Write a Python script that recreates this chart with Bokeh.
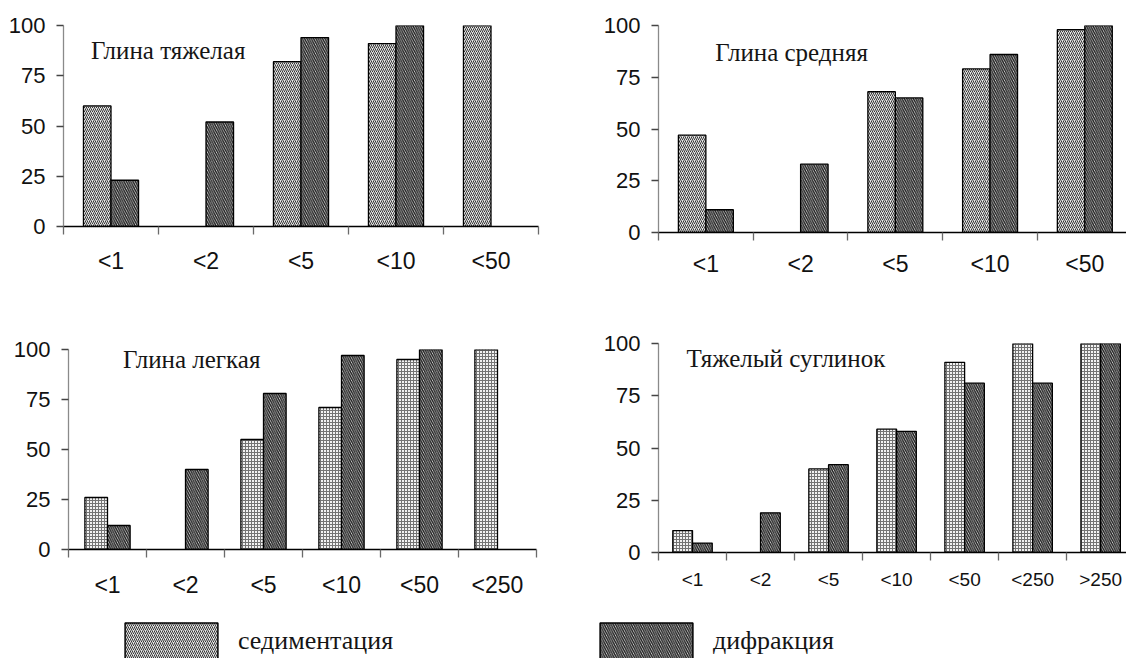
from bokeh.plotting import figure
from bokeh.layouts import column, row
from bokeh.models import Range1d, FixedTicker, Label, Legend, LegendItem, ColumnDataSource
from bokeh.embed import file_html
from bokeh.resources import INLINE

# ---------------- data ----------------
cats_heavy = ["<1", "<2", "<5", "<10", "<50"]
cats_medium = ["<1", "<2", "<5", "<10", "<50"]
cats_light = ["<1", "<2", "<5", "<10", "<50", "<250"]
cats_loam = ["<1", "<2", "<5", "<10", "<50", "<250", ">250"]

heavy_sed = [60, None, 82, 91, 100]
heavy_dif = [23, 52, 94, 100, None]
medium_sed = [47, None, 68, 79, 98]
medium_dif = [11, 33, 65, 86, 100]
light_sed = [26, None, 55, 71, 95, 100]
light_dif = [12, 40, 78, 97, 100, None]
loam_sed = [10.5, None, 40, 59, 91, 100, 100]
loam_dif = [4.5, 19, 42, 58, 81, 81, 100]

titles = ["Глина тяжелая", "Глина средняя", "Глина легкая", "Тяжелый суглинок"]
legend_labels = ["седиментация", "дифракция"]
y_ticks = [0, 25, 50, 75, 100]

# ---------------- styles ----------------
BAR_W = 0.29
SED_TOP = dict(fill_color="#e4e4e4", hatch_pattern="/", hatch_color="#363636",
               hatch_scale=4, hatch_weight=1)
SED_BOT = dict(fill_color="#f2f2f2", hatch_pattern="+", hatch_color="#747474",
               hatch_scale=3, hatch_weight=1)
DIF = dict(fill_color="#dcdcdc", hatch_pattern="\\", hatch_color="#1e1e1e",
           hatch_scale=4.5, hatch_weight=1.4)
SANS = "Liberation Sans"
SERIF = "Liberation Serif"


def panel(cats, sed, dif, title, tpos, sed_style, w, h, bl, br, bt, bb, xspan,
          xfont="23px", xstandoff=13):
    n = len(cats)
    p = figure(width=w, height=h, output_backend="svg", toolbar_location=None,
               x_range=Range1d(0.5, 0.5 + xspan), y_range=Range1d(0, 100),
               min_border_left=bl, min_border_right=br, min_border_top=bt,
               min_border_bottom=bb)
    p.frame_align = False
    p.outline_line_color = None
    p.grid.visible = False
    p.background_fill_color = "white"
    p.border_fill_color = "white"

    sx = [i + 1 - BAR_W / 2 for i, v in enumerate(sed) if v is not None]
    sv = [v for v in sed if v is not None]
    dx = [i + 1 + BAR_W / 2 for i, v in enumerate(dif) if v is not None]
    dv = [v for v in dif if v is not None]
    p.vbar(x=sx, top=sv, bottom=0, width=BAR_W, line_color="black",
           line_width=1.3, **sed_style)
    p.vbar(x=dx, top=dv, bottom=0, width=BAR_W, line_color="black",
           line_width=1.3, **DIF)

    xa = p.xaxis[0]
    xa.ticker = FixedTicker(ticks=list(range(1, n + 1)),
                            minor_ticks=[i + 0.5 for i in range(n + 1)])
    xa.major_label_overrides = {i + 1: c for i, c in enumerate(cats)}
    xa.major_tick_out = 0
    xa.major_tick_in = 0
    xa.minor_tick_out = 8
    xa.minor_tick_in = 0
    xa.minor_tick_line_color = "#6a6a6a"
    xa.minor_tick_line_width = 1.3
    xa.axis_line_color = "black"
    xa.axis_line_width = 1.5
    xa.major_label_standoff = xstandoff
    xa.major_label_text_font = SANS
    xa.major_label_text_font_size = xfont
    xa.major_label_text_color = "#111111"

    ya = p.yaxis[0]
    ya.ticker = FixedTicker(ticks=y_ticks)
    ya.minor_tick_out = 0
    ya.minor_tick_in = 0
    ya.major_tick_out = 7
    ya.major_tick_in = 0
    ya.major_tick_line_color = "#444444"
    ya.major_tick_line_width = 1.3
    ya.axis_line_color = "#8a8a8a"
    ya.axis_line_width = 1.3
    ya.major_label_standoff = 11
    ya.major_label_text_font = SANS
    ya.major_label_text_font_size = "22px"
    ya.major_label_text_color = "#111111"

    p.add_layout(Label(x=tpos[0], y=tpos[1], text=title, text_font=SERIF,
                       text_font_size="25px", text_color="#151515",
                       text_baseline="middle", text_align="left"))
    return p


p1 = panel(cats_heavy, heavy_sed, heavy_dif, titles[0], (0.79, 87.5), SED_TOP,
           590, 300, 63, 52, 25, 74, 5.0, xstandoff=13)
p2 = panel(cats_medium, medium_sed, medium_dif, titles[1], (1.1, 87), SED_TOP,
           536, 300, 68, 0, 25, 68, 4.94, xstandoff=10)
p3 = panel(cats_light, light_sed, light_dif, titles[2], (1.2, 95), SED_BOT,
           590, 312, 68, 54, 49, 63, 6.0, xstandoff=14)
p4 = panel(cats_loam, loam_sed, loam_dif, titles[3], (0.91, 93), SED_BOT,
           536, 312, 68, 0, 43, 60, 6.88, xfont="19px", xstandoff=8)

# ---------------- legend strip ----------------
pl = figure(width=1124, height=46, output_backend="svg", toolbar_location=None,
            x_range=Range1d(0, 1), y_range=Range1d(0, 1),
            x_axis_type=None, y_axis_type=None,
            min_border_left=0, min_border_right=0, min_border_top=0, min_border_bottom=0)
pl.frame_align = False
pl.outline_line_color = None
pl.grid.visible = False
pl.border_fill_color = "white"
pl.background_fill_color = "white"
# proxy renderers for the legend swatches (hidden; only their legend glyphs are shown)
proxy = ColumnDataSource(data=dict(x=[-5], top=[-5], bottom=[-6]))
lr1 = pl.vbar(x="x", top="top", bottom="bottom", width=0.1, source=proxy,
              line_color="black", line_width=1.5, **SED_TOP)
lr2 = pl.vbar(x="x", top="top", bottom="bottom", width=0.1, source=proxy,
              line_color="black", line_width=1.5, **DIF)
lr1.visible = False
lr2.visible = False
# legend area glyphs are drawn inset by 10% on each side
for rend, lab, loc in ((lr1, legend_labels[0], (113, -5)), (lr2, legend_labels[1], (588, -5))):
    lg = Legend(items=[LegendItem(label=lab, renderers=[rend])], location=loc,
                glyph_width=116, glyph_height=45, label_standoff=9, padding=0,
                margin=0, border_line_color=None, background_fill_alpha=0,
                inactive_fill_alpha=0,
                label_text_font=SERIF, label_text_font_size="26px",
                label_text_color="#151515", label_height=45)
    pl.add_layout(lg)

layout = column(row(p1, p2), row(p3, p4), pl)
open("out.html", "w").write(file_html(layout, INLINE))
